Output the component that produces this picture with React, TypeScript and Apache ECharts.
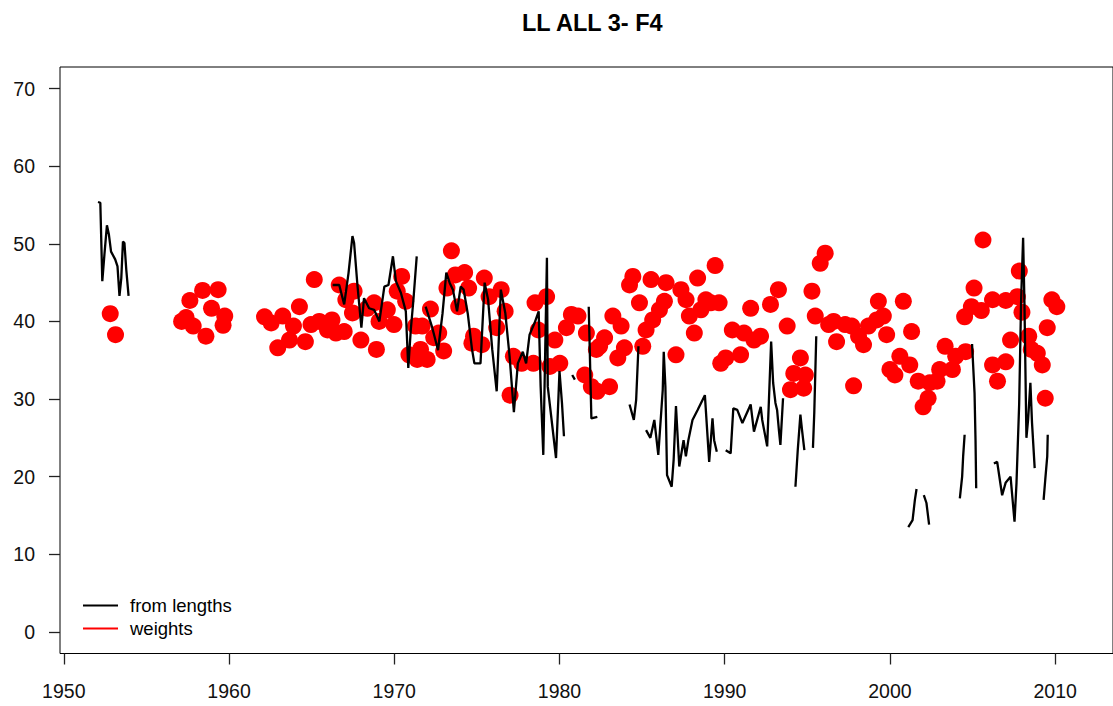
import React, { useEffect, useRef } from "react";
import * as echarts from "echarts";

const FONT = '"Liberation Sans", Arial, Helvetica, sans-serif';

const TITLE = "LL ALL 3- F4";
const SERIES_NAMES = ["from lengths", "weights"];
const X_TICKS = [1950, 1960, 1970, 1980, 1990, 2000, 2010];
const Y_TICKS = [0, 10, 20, 30, 40, 50, 60, 70];

// "from lengths" (black line); null marks a gap in the line
const lenYears = [
  1952.07, 1952.21, 1952.29, 1952.33, 1952.45, 1952.61, 1952.73, 1952.86, 1953.11, 1953.25,
  1953.37, 1953.48, 1953.58, 1953.67, 1953.78, 1953.92,
  1960.0,
  1966.27, 1966.67, 1966.97, 1967.23, 1967.47, 1967.57, 1967.77, 1968.01, 1968.17, 1968.48,
  1968.78, 1969.1, 1969.4, 1969.65, 1969.92, 1970.1, 1970.4, 1970.7, 1970.85, 1971.0,
  1971.16, 1971.36,
  1971.6,
  1971.9, 1972.3, 1972.65, 1972.92, 1973.15, 1973.35, 1973.55, 1973.8, 1974.02, 1974.2,
  1974.45, 1974.7, 1974.85, 1975.22, 1975.47, 1975.68, 1975.93, 1976.2, 1976.45, 1976.72,
  1976.98, 1977.24, 1977.48, 1977.78, 1977.98, 1978.19, 1978.49, 1978.74, 1978.86, 1979.02,
  1979.24, 1979.29, 1979.79, 1980.0, 1980.15, 1980.27,
  1980.5,
  1980.77, 1980.93,
  1981.3,
  1981.77, 1981.93, 1982.29,
  1983.0,
  1984.24, 1984.5, 1984.64, 1984.78,
  1985.0,
  1985.24, 1985.5, 1985.74, 1985.98, 1986.25, 1986.31, 1986.41, 1986.51, 1986.79, 1986.91,
  1987.05, 1987.25, 1987.51, 1987.65, 1987.8, 1988.05, 1988.36, 1988.8, 1989.06, 1989.26,
  1989.36, 1989.52,
  1989.8,
  1990.06, 1990.36, 1990.52, 1990.76, 1991.07, 1991.57, 1991.77, 1992.18, 1992.27, 1992.57,
  1992.81, 1992.93, 1993.07, 1993.17, 1993.28, 1993.37, 1993.53,
  1993.9,
  1994.28, 1994.42, 1994.58, 1994.68, 1994.82,
  1995.1,
  1995.34, 1995.42, 1995.54,
  1998.0,
  2001.11, 2001.37, 2001.51, 2001.61,
  2001.8,
  2002.05, 2002.21, 2002.37,
  2003.0,
  2004.23, 2004.37, 2004.43, 2004.52,
  2004.8,
  2004.97, 2005.12, 2005.18, 2005.22,
  2005.8,
  2006.29, 2006.49, 2006.65, 2006.79, 2007.0, 2007.3, 2007.44, 2007.54, 2007.66, 2007.82,
  2007.94, 2008.06, 2008.14, 2008.26, 2008.36, 2008.5, 2008.6, 2008.76,
  2009.0,
  2009.3, 2009.4, 2009.52, 2009.55,
];
const lenValues = [
  55.4, 55.3, 48.6, 45.2, 48.4, 52.4, 51.2, 49.0, 48.0, 47.1,
  43.3, 45.6, 50.3, 50.1, 46.7, 43.3,
  null,
  44.7, 44.7, 42.2, 46.2, 51.0, 50.1, 44.7, 39.2, 43.0, 41.7,
  41.5, 40.0, 44.5, 44.7, 48.4, 45.2, 43.7, 41.3, 34.0, 38.9,
  42.8, 48.4,
  null,
  41.9, 39.2, 36.3, 41.0, 46.3, 45.0, 44.1, 41.3, 44.5, 44.1,
  41.0, 36.5, 34.6, 34.6, 45.0, 42.8, 36.4, 31.0, 44.1, 41.1,
  35.5, 28.3, 34.6, 36.1, 34.6, 38.3, 39.8, 41.3, 31.6, 22.8,
  48.2, 31.6, 22.4, 33.6, 29.5, 25.2,
  null,
  33.1, 32.5,
  null,
  41.9, 27.5, 27.7,
  null,
  29.3, 27.3, 29.9, 36.8,
  null,
  26.0, 25.0, 27.3, 22.8, 31.2, 36.1, 31.6, 20.2, 18.7, 22.2,
  29.1, 21.3, 24.7, 22.6, 24.7, 27.3, 28.6, 30.5, 21.9, 27.5,
  24.7, 23.2,
  null,
  23.4, 23.0, 28.8, 28.6, 26.9, 29.3, 25.8, 29.0, 27.3, 23.9,
  37.4, 32.1, 29.5, 28.6, 26.0, 24.1, 30.1,
  null,
  18.7, 23.4, 28.0, 26.0, 23.4,
  null,
  23.7, 28.2, 38.1,
  null,
  13.5, 14.4, 17.0, 18.4,
  null,
  17.6, 16.6, 13.8,
  null,
  17.2, 20.0, 22.6, 25.4,
  null,
  37.1, 30.8, 24.7, 18.5,
  null,
  21.7, 21.9, 19.6, 17.6, 19.2, 20.0, 16.6, 14.2, 19.2, 29.3,
  42.8, 50.8, 42.4, 25.0, 27.3, 32.1, 26.9, 21.1,
  null,
  17.0, 19.6, 22.6, 25.4,
];

// "weights" (red points)
const wtYears = [
  1952.81, 1953.13, 1957.13, 1957.4, 1957.63, 1957.83, 1958.4, 1958.6, 1958.94, 1959.34,
  1959.64, 1959.74, 1962.15, 1962.55, 1962.95, 1963.25, 1963.66, 1963.9, 1964.26, 1964.62,
  1964.96, 1965.16, 1965.46, 1965.96, 1966.23, 1966.47, 1966.67, 1966.97, 1967.07, 1967.47,
  1967.57, 1967.98, 1968.37, 1968.78, 1968.92, 1969.08, 1969.58, 1969.98, 1970.18, 1970.45,
  1970.69, 1970.89, 1971.29, 1971.39, 1971.59, 1971.69, 1971.99, 1972.19, 1972.39, 1972.69,
  1972.99, 1973.19, 1973.46, 1973.7, 1973.9, 1974.26, 1974.5, 1974.7, 1974.8, 1975.3,
  1975.45, 1975.74, 1976.2, 1976.47, 1976.71, 1977.01, 1977.21, 1977.71, 1978.42, 1978.52,
  1978.72, 1979.22, 1979.42, 1979.72, 1980.02, 1980.42, 1980.72, 1981.12, 1981.53, 1981.63,
  1981.93, 1982.23, 1982.28, 1982.43, 1982.73, 1983.03, 1983.23, 1983.53, 1983.73, 1983.93,
  1984.24, 1984.44, 1984.84, 1985.04, 1985.24, 1985.54, 1985.64, 1986.05, 1986.35, 1986.45,
  1987.05, 1987.35, 1987.66, 1987.86, 1988.16, 1988.36, 1988.56, 1988.86, 1989.16, 1989.42,
  1989.66, 1989.76, 1990.06, 1990.46, 1990.96, 1991.17, 1991.57, 1991.77, 1992.17, 1992.77,
  1993.25, 1993.78, 1993.98, 1994.18, 1994.58, 1994.78, 1994.88, 1995.28, 1995.48, 1995.78,
  1996.08, 1996.29, 1996.59, 1996.77, 1997.29, 1997.69, 1997.8, 1998.1, 1998.4, 1998.7,
  1999.2, 1999.3, 1999.6, 1999.8, 2000.0, 2000.3, 2000.6, 2000.81, 2001.2, 2001.31,
  2001.71, 2002.01, 2002.31, 2002.41, 2002.85, 2003.01, 2003.34, 2003.78, 2003.98, 2004.52,
  2004.58, 2004.93, 2005.09, 2005.53, 2005.63, 2006.21, 2006.21, 2006.51, 2007.01, 2007.01,
  2007.3, 2007.71, 2007.83, 2007.99, 2008.4, 2008.55, 2008.92, 2009.22, 2009.4, 2009.52,
  2009.8, 2010.1,
];
const wtValues = [
  41.0, 38.3, 40.0, 40.5, 42.7, 39.4, 44.0, 38.1, 41.7, 44.1,
  39.5, 40.7, 40.6, 39.8, 36.6, 40.7, 37.6, 39.4, 41.9, 37.4,
  39.6, 45.4, 40.0, 38.9, 40.2, 38.5, 44.7, 38.7, 42.8, 41.1,
  43.9, 37.6, 41.7, 42.4, 36.4, 40.0, 41.5, 39.6, 43.9, 45.8,
  42.6, 35.7, 39.4, 35.1, 36.4, 39.4, 35.1, 41.6, 37.9, 38.5,
  36.2, 44.3, 49.1, 46.0, 41.9, 46.3, 44.3, 37.2, 38.1, 37.0,
  45.6, 43.2, 39.2, 44.1, 41.3, 30.5, 35.5, 34.6, 34.6, 42.4,
  38.9, 43.2, 34.2, 37.6, 34.6, 39.2, 40.9, 40.7, 33.1, 38.5,
  31.6, 36.4, 31.0, 36.8, 37.9, 31.6, 40.7, 35.3, 39.4, 36.6,
  44.7, 45.8, 42.4, 36.8, 38.9, 45.4, 40.2, 41.5, 42.6, 45.0,
  35.7, 44.1, 42.8, 40.7, 38.5, 45.6, 41.5, 42.8, 42.4, 47.2,
  42.4, 34.6, 35.3, 38.9, 35.7, 38.5, 41.7, 37.6, 38.1, 42.2,
  44.1, 39.4, 31.2, 33.3, 35.3, 31.4, 33.1, 43.9, 40.7, 47.5,
  48.8, 39.6, 40.0, 37.4, 39.6, 39.4, 31.7, 38.1, 37.0, 39.4,
  40.2, 42.6, 40.7, 38.3, 33.8, 33.1, 35.5, 42.6, 34.4, 38.7,
  32.3, 29.0, 30.1, 32.1, 32.3, 33.8, 36.8, 33.8, 35.5, 40.6,
  36.1, 41.9, 44.3, 41.4, 50.5, 42.8, 34.4, 32.3, 42.7, 34.8,
  37.6, 43.2, 46.5, 41.2, 38.1, 36.4, 35.9, 34.4, 30.1, 39.2,
  42.8, 41.9,
];

export default function App() {
  const ref = useRef<HTMLDivElement>(null);

  useEffect(() => {
    if (!ref.current) return;
    const chart = echarts.init(ref.current, null, { renderer: "svg" });

    const lineData = lenYears.map((x, i) => [x, lenValues[i] === null ? "-" : lenValues[i]]);
    const pointData = wtYears.map((x, i) => [x, wtValues[i]]);

    chart.setOption({
      animation: false,
      backgroundColor: "#ffffff",
      title: {
        text: TITLE,
        left: 517,
        top: 6,
        textStyle: { fontFamily: FONT, fontSize: 23.5, fontWeight: "bold", color: "#000" },
      },
      legend: {
        orient: "vertical",
        left: 78,
        top: 589,
        itemWidth: 35,
        itemHeight: 2,
        itemGap: 0,
        textStyle: {
          fontFamily: FONT,
          fontSize: 18.5,
          color: "#000",
          lineHeight: 23,
          padding: [0, 0, 0, 7],
        },
        data: [
          { name: SERIES_NAMES[0], icon: "rect" },
          { name: SERIES_NAMES[1], icon: "rect" },
        ],
      },
      grid: {
        show: true,
        left: 60,
        top: 67,
        width: 1063,
        height: 586.5,
        borderColor: "#000",
        borderWidth: 1,
        containLabel: false,
      },
      xAxis: {
        type: "value",
        min: 1949.77,
        max: 2013.5,
        position: "bottom",
        splitLine: { show: false },
        axisLine: { show: false, onZero: false },
        axisTick: {
          show: true,
          inside: false,
          length: 11,
          lineStyle: { color: "#222", width: 1.3 },
          customValues: X_TICKS,
        },
        axisLabel: {
          fontFamily: FONT,
          fontSize: 19.5,
          color: "#111",
          margin: 27,
          customValues: X_TICKS,
          formatter: (v: number) => String(v),
        },
      },
      yAxis: {
        type: "value",
        min: -2.8,
        max: 72.8,
        position: "left",
        splitLine: { show: false },
        axisLine: { show: false, onZero: false },
        axisTick: {
          show: true,
          inside: false,
          length: 11,
          lineStyle: { color: "#222", width: 1.3 },
          customValues: Y_TICKS,
        },
        axisLabel: {
          fontFamily: FONT,
          fontSize: 19.5,
          color: "#111",
          margin: 25,
          customValues: Y_TICKS,
          formatter: (v: number) => String(v),
        },
      },
      series: [
        {
          name: SERIES_NAMES[1],
          type: "scatter",
          data: pointData,
          symbol: "circle",
          symbolSize: 17,
          itemStyle: { color: "#ff0000", opacity: 1 },
          z: 2,
        },
        {
          name: SERIES_NAMES[0],
          type: "line",
          data: lineData,
          color: "#000",
          showSymbol: false,
          connectNulls: false,
          lineStyle: { color: "#000", width: 2.3 },
          itemStyle: { color: "#000" },
          z: 3,
        },
      ],
    });

    return () => chart.dispose();
  }, []);

  return (
    <div
      ref={ref}
      style={{ position: "fixed", left: 0, top: 0, width: 1113, height: 706, background: "#fff" }}
    />
  );
}
